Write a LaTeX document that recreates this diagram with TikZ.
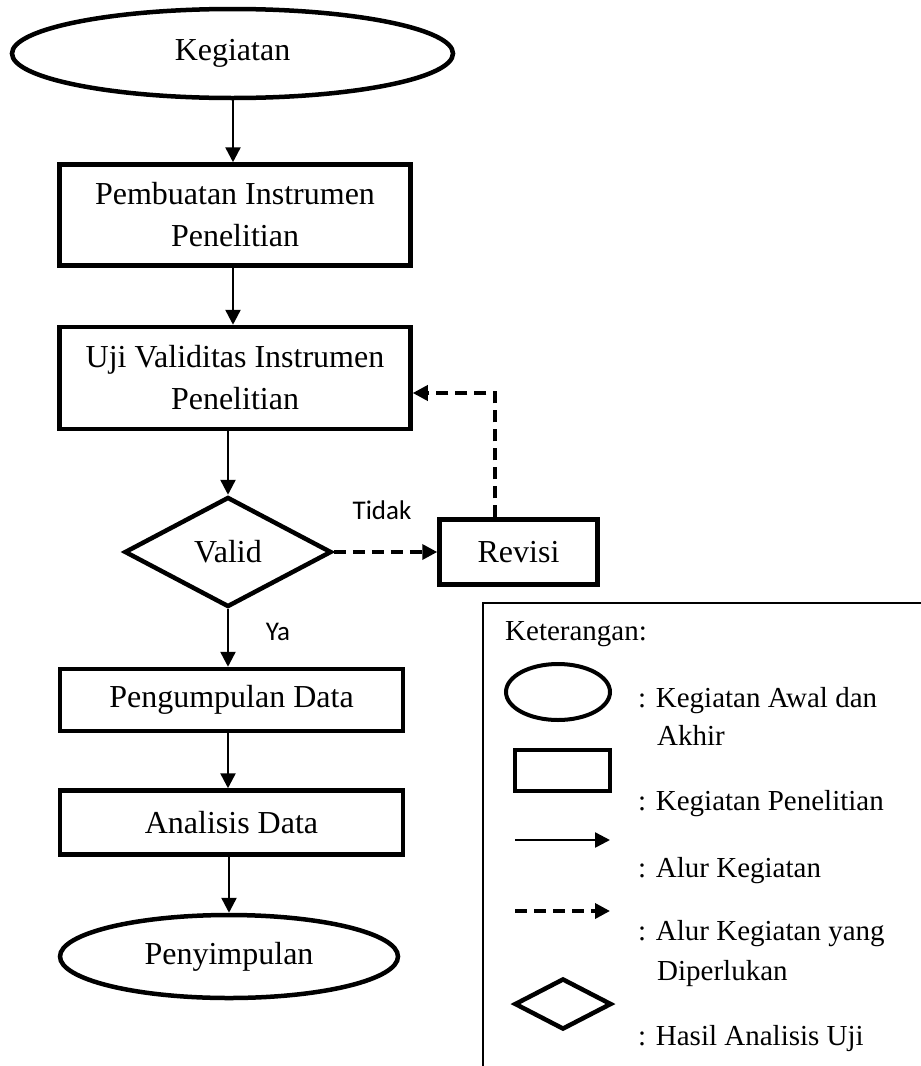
\documentclass[tikz,border=0pt]{standalone}
\usepackage{fontspec}
\setmainfont{Liberation Serif}
\newfontfamily\calib{Carlito}
\usetikzlibrary{shapes.geometric,arrows.meta}
\begin{document}
\begin{tikzpicture}[x=1pt,y=-1pt,
  mainfont/.style={font=\fontsize{32}{42}\selectfont},
  terminal/.style={ellipse, draw, line width=4.5pt, inner sep=0pt, mainfont},
  process/.style={rectangle, draw, line width=4.5pt, inner sep=0pt, align=center, mainfont},
  decision/.style={diamond, draw, line width=4.5pt, inner sep=0pt, mainfont},
  arr/.style={-{Triangle[width=15pt,length=15pt]}, line width=2.5pt},
  dasharr/.style={-{Triangle[width=15pt,length=15pt]}, line width=3.5pt, dash pattern=on 12pt off 7pt},
  lbl/.style={font=\calib\fontsize{27}{32}\selectfont, inner sep=0pt},
  legtext/.style={font=\fontsize{29}{38}\selectfont, inner sep=0pt, anchor=base west}
]
\useasboundingbox (0,0) rectangle (921,1066);

% main flow
\node[terminal, minimum width=441pt, minimum height=89pt] (start) at (232.5,53.5) {Kegiatan};
\node[process, minimum width=351pt, minimum height=101pt] (pembuatan) at (235,215) {Pembuatan Instrumen\\Penelitian};
\node[process, minimum width=351pt, minimum height=102pt] (uji) at (235,378) {Uji Validitas Instrumen\\Penelitian};
\node[decision, minimum width=207pt, minimum height=110pt] (valid) at (228,552) {Valid};
\node[process, minimum width=158pt, minimum height=65pt] (revisi) at (518.5,552) {Revisi};
\node[process, minimum width=343pt, minimum height=62pt] (kumpul) at (231.5,700) {Pengumpulan Data};
\node[process, minimum width=343pt, minimum height=64pt] (analisis) at (231.5,822.5) {Analisis Data};
\node[terminal, minimum width=338pt, minimum height=83pt] (simpul) at (229,956.5) {Penyimpulan};

\coordinate (a1) at (233,0);
\coordinate (fb) at (495,393);

\draw[arr] (start.south -| a1) -- (pembuatan.north -| a1);
\draw[arr] (pembuatan.south -| a1) -- (uji.north -| a1);
\draw[arr] (uji.south -| valid.north) -- (valid.north);
\draw[arr] (valid.south) -- (kumpul.north -| valid.south);
\draw[arr] (kumpul.south -| valid.south) -- (analisis.north -| valid.south);
\draw[arr] (analisis.south -| simpul.north) -- (simpul.north);

\draw[dasharr] (valid.east) -- (revisi.west);
\draw[dasharr] (revisi.north -| fb) -- (fb) -- (fb -| uji.east);

\node[lbl] (tidak) at (382,510) {Tidak};
\node[lbl] (ya) at (278,632) {Ya};

% legend
\draw[line width=2pt] (483,1066) -- (483,603) -- (921,603);
\node[legtext] (ket) at (505,640) {Keterangan:};

\node[ellipse, draw, line width=4pt, minimum width=104pt, minimum height=56pt, inner sep=0pt] (legell) at (558,692) {};
\node[legtext] (t1) at (638,707) {: Kegiatan Awal dan};
\node[legtext] (t1b) at (657,745) {Akhir};

\node[rectangle, draw, line width=4.5pt, minimum width=95pt, minimum height=41pt, inner sep=0pt] (legrect) at (562.5,770.5) {};
\node[legtext] (t2) at (638,810) {: Kegiatan Penelitian};

\coordinate (ls1) at (515,840);
\coordinate (le1) at (610,840);
\draw[arr] (ls1) -- (le1);
\node[legtext] (t3) at (638,877) {: Alur Kegiatan};

\coordinate (ls2) at (515,911);
\coordinate (le2) at (610,911);
\draw[dasharr] (ls2) -- (le2);
\node[legtext] (t4) at (638,940) {: Alur Kegiatan yang};
\node[legtext] (t4b) at (657,980) {Diperlukan};

\node[diamond, draw, line width=4.5pt, minimum width=97pt, minimum height=51pt, inner sep=0pt] (legdia) at (563,1004) {};
\node[legtext] (t5) at (638,1045) {: Hasil Analisis Uji};
\end{tikzpicture}
\end{document}
